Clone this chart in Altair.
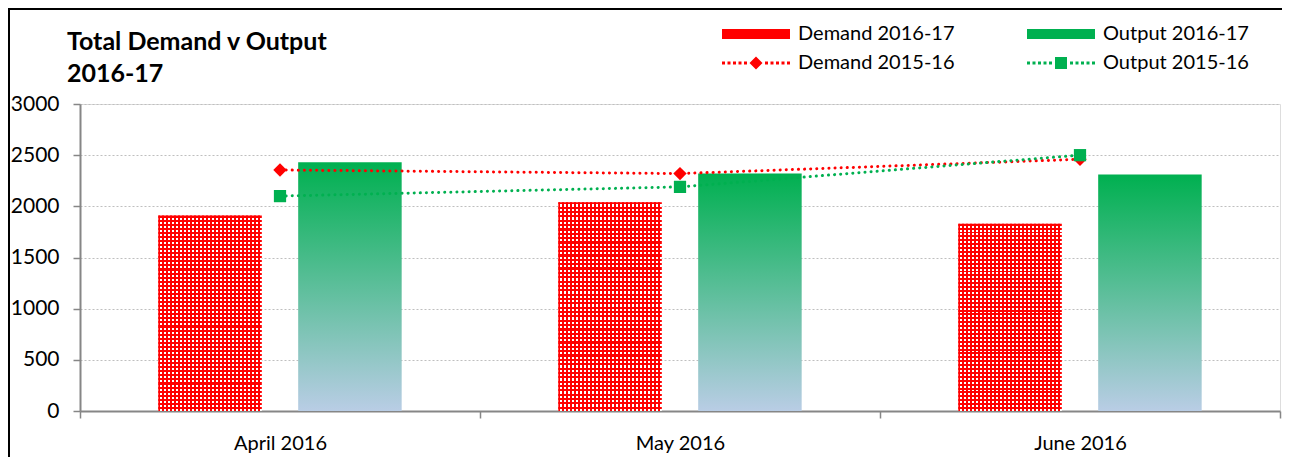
import altair as alt
import pandas as pd

# ---- data ----
months = ["April 2016", "May 2016", "June 2016"]
demand_1617 = [1910, 2040, 1830]
output_1617 = [2430, 2320, 2310]
demand_1516 = [2355, 2320, 2460]
output_1516 = [2100, 2190, 2500]
series_names = ["Demand 2016-17", "Output 2016-17", "Demand 2015-16", "Output 2015-16"]
y_ticks = [0, 500, 1000, 1500, 2000, 2500, 3000]

RED = "#FF0000"
GREEN = "#00B050"
BLUE = "#B9CDE5"
GRAY = "#868686"
FONT = "Lato"

W, H = 1200, 307

bars = pd.DataFrame({
    "month": months * 2,
    "kind": ["Demand"] * 3 + ["Output"] * 3,
    "value": demand_1617 + output_1617,
})
lines = pd.DataFrame({
    "month": months * 2,
    "series": ["Demand 2015-16"] * 3 + ["Output 2015-16"] * 3,
    "value": demand_1516 + output_1516,
})
legend_df = pd.DataFrame({"series": series_names})


def stripes(n, c1, c2, horizontal, frac=0.5):
    stops = []
    for i in range(n):
        a, m, b = i / n, (i + frac) / n, (i + 1) / n
        stops += [alt.GradientStop(color=c1, offset=a), alt.GradientStop(color=c1, offset=m),
                  alt.GradientStop(color=c2, offset=m), alt.GradientStop(color=c2, offset=b)]
    if horizontal:
        return alt.LinearGradient(gradient="linear", stops=stops, x1=0, x2=0, y1=0, y2=1)
    return alt.LinearGradient(gradient="linear", stops=stops, x1=0, x2=1, y1=0, y2=0)


x_enc = alt.X("month:N", sort=months, scale=alt.Scale(domain=months, paddingInner=0, paddingOuter=0),
              axis=alt.Axis(title=None, labelFont=FONT, labelFontSize=20, labelColor="black",
                            domainColor=GRAY, domainWidth=2, tickColor=GRAY, tickSize=7, tickWidth=1.5,
                            tickBand="extent", labelPadding=15, grid=False, labelAngle=0))
y_enc = alt.Y("value:Q", scale=alt.Scale(domain=[0, 3000], nice=False),
              axis=alt.Axis(title=None, values=y_ticks, format="d", labelFont=FONT, labelFontSize=21,
                            labelColor="black", domainColor=GRAY, domainWidth=2, tickColor=GRAY,
                            tickSize=7, tickWidth=1.5, labelPadding=14, grid=True,
                            gridColor="#BFBFBF", gridDash=[2, 2], gridWidth=1))
xoff = alt.XOffset("kind:N", scale=alt.Scale(domain=["Demand", "Output"], paddingInner=0.26, paddingOuter=0.56))

base_bars = alt.Chart(bars).encode(x=x_enc, y=y_enc, xOffset=xoff)
demand_bar_h = base_bars.mark_bar(fill=stripes(48, RED, "#FFFFFF", True), strokeWidth=0).transform_filter(
    alt.datum.kind == "Demand")
demand_bar_v = base_bars.mark_bar(fill=stripes(26, RED, "rgba(255,0,0,0)", False), strokeWidth=0).transform_filter(
    alt.datum.kind == "Demand")
output_bar = base_bars.mark_bar(
    fill=alt.LinearGradient(gradient="linear", x1=0, x2=0, y1=0, y2=1,
                            stops=[alt.GradientStop(color=GREEN, offset=0), alt.GradientStop(color=BLUE, offset=1)]),
    strokeWidth=0).transform_filter(alt.datum.kind == "Output")

base_lines = alt.Chart(lines).encode(x=x_enc, y=y_enc)
red_line = base_lines.mark_line(color=RED, strokeWidth=3, strokeDash=[0.1, 6], strokeCap="round").transform_filter(
    alt.datum.series == "Demand 2015-16")
green_line = base_lines.mark_line(color=GREEN, strokeWidth=3, strokeDash=[0.1, 6], strokeCap="round").transform_filter(
    alt.datum.series == "Output 2015-16")
red_pts = base_lines.mark_point(shape="diamond", filled=True, color=RED, size=180, opacity=1).transform_filter(
    alt.datum.series == "Demand 2015-16")
green_pts = base_lines.mark_point(shape="square", filled=True, color=GREEN, size=150, opacity=1).transform_filter(
    alt.datum.series == "Output 2015-16")


# legend symbol paths (unit = sqrt(size)/2 = 10px)
def dotted(marker):
    p = ""
    for i in range(5):
        cx = -0.85 + i * 0.55
        p += f"M{cx-0.15:.2f},-0.15H{cx+0.15:.2f}V0.15H{cx-0.15:.2f}Z"
    for i in range(5):
        cx = 3.45 + i * 0.55
        p += f"M{cx-0.15:.2f},-0.15H{cx+0.15:.2f}V0.15H{cx-0.15:.2f}Z"
    return p + marker


rect_path = "M-1,-0.5H5.8V0.5H-1Z"
diamond_path = dotted("M2.4,-0.65L3.05,0L2.4,0.65L1.75,0Z")
square_path = dotted("M1.8,-0.6H3.0V0.6H1.8Z")

legend_layer = alt.Chart(legend_df).mark_point(filled=True, opacity=1).encode(
    color=alt.Color("series:N", scale=alt.Scale(domain=series_names, range=[RED, GREEN, RED, GREEN]),
                    legend=alt.Legend(title=None, orient="none", direction="horizontal", legendX=642,
                                      legendY=-80, columns=2, columnPadding=72, rowPadding=9,
                                      symbolSize=400, labelOffset=56, symbolStrokeWidth=0,
                                      labelFont=FONT, labelFontSize=20, labelColor="black", labelLimit=400)),
    shape=alt.Shape("series:N", scale=alt.Scale(domain=series_names,
                                                range=[rect_path, rect_path, diamond_path, square_path]),
                    legend=alt.Legend(title=None)),
).transform_filter("false")

frame = alt.Chart(pd.DataFrame({"a": [0]})).mark_rect(filled=False, stroke="black", strokeWidth=2).encode(
    x=alt.value(-71), x2=alt.value(W + 200), y=alt.value(-95), y2=alt.value(H + 200))

chart = alt.layer(
    demand_bar_h, demand_bar_v, output_bar, red_line, green_line, red_pts, green_pts, legend_layer, frame
).properties(
    width=W, height=H,
    padding={"left": 72, "top": 96, "right": 2, "bottom": 46},
    autosize=alt.AutoSizeParams(type="none"),
    title=alt.TitleParams(["Total Demand v Output", "2016-17"], anchor="start", frame="group", font=FONT,
                          fontSize=25, fontWeight="bold", color="black", dx=-13, dy=123, offset=24,
                          baseline="alphabetic", lineHeight=32),
).configure_view(stroke=None).configure(background="white")

chart.save("out.html", embed_options={"renderer": "svg", "actions": False})
